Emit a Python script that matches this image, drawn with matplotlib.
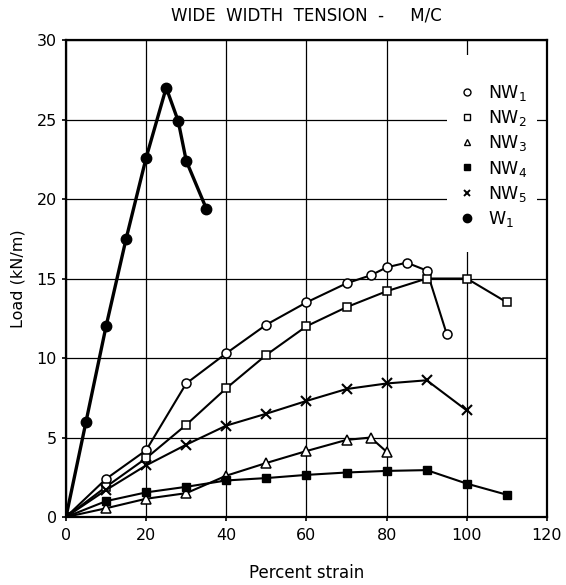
import matplotlib
matplotlib.use("Agg")
import matplotlib.pyplot as plt
from matplotlib.patches import Rectangle

plt.rcParams['font.family'] = ['DejaVu Sans']
plt.rcParams['mathtext.default'] = 'regular'

# NW1 - open circles
nw1_x = [0, 10, 20, 30, 40, 50, 60, 70, 76, 80, 85, 90, 95]
nw1_y = [0, 2.4, 4.2, 8.4, 10.3, 12.1, 13.5, 14.7, 15.2, 15.7, 16.0, 15.5, 11.5]
# NW2 - open squares
nw2_x = [0, 10, 20, 30, 40, 50, 60, 70, 80, 90, 100, 110]
nw2_y = [0, 1.9, 3.7, 5.8, 8.1, 10.2, 12.0, 13.2, 14.2, 15.0, 15.0, 13.5]
# NW3 - open triangles
nw3_x = [0, 10, 20, 30, 40, 50, 60, 70, 76, 80]
nw3_y = [0, 0.55, 1.15, 1.5, 2.6, 3.4, 4.15, 4.85, 5.0, 4.1]
# NW4 - filled squares
nw4_x = [0, 10, 20, 30, 40, 50, 60, 70, 80, 90, 100, 110]
nw4_y = [0, 1.0, 1.55, 1.9, 2.3, 2.45, 2.65, 2.8, 2.9, 2.95, 2.1, 1.4]
# NW5 - crosses
nw5_x = [0, 10, 20, 30, 40, 50, 60, 70, 80, 90, 100]
nw5_y = [0, 1.7, 3.25, 4.55, 5.75, 6.5, 7.3, 8.05, 8.4, 8.6, 6.7]
# W1 - filled circles
w1_x = [0, 5, 10, 15, 20, 25, 28, 30, 35]
w1_y = [0, 6.0, 12.0, 17.5, 22.6, 27.0, 24.9, 22.4, 19.4]

labels = ['NW$_1$', 'NW$_2$', 'NW$_3$', 'NW$_4$', 'NW$_5$', 'W$_1$']

fig = plt.figure(figsize=(5.66, 5.85), dpi=100)
ax = fig.add_axes([0.1166, 0.1162, 0.8498, 0.8154])

lw = 1.5
ax.plot(nw1_x, nw1_y, color='black', lw=lw, marker='o', ms=6.5, mfc='white', mec='black', mew=1.1, zorder=3)
ax.plot(nw2_x, nw2_y, color='black', lw=lw, marker='s', ms=6, mfc='white', mec='black', mew=1.1, zorder=3)
ax.plot(nw3_x, nw3_y, color='black', lw=lw, marker='^', ms=6.5, mfc='white', mec='black', mew=1.1, zorder=3)
ax.plot(nw4_x, nw4_y, color='black', lw=lw, marker='s', ms=6, mfc='black', mec='black', zorder=3)
ax.plot(nw5_x, nw5_y, color='black', lw=lw, marker='x', ms=7, mew=1.5, zorder=3)
ax.plot(w1_x, w1_y, color='black', lw=2.4, marker='o', ms=7.5, mfc='black', mec='black', zorder=3)

# white patch behind the legend, hides grid lines
ax.add_patch(Rectangle((0.792, 0.556), 0.187, 0.413, transform=ax.transAxes,
                       facecolor='white', edgecolor='none', zorder=1))

h = [
    plt.Line2D([], [], ls='none', marker='o', ms=5, mfc='white', mec='black'),
    plt.Line2D([], [], ls='none', marker='s', ms=4.5, mfc='white', mec='black'),
    plt.Line2D([], [], ls='none', marker='^', ms=5, mfc='white', mec='black'),
    plt.Line2D([], [], ls='none', marker='s', ms=5, mfc='black', mec='black'),
    plt.Line2D([], [], ls='none', marker='x', ms=5, mec='black', mew=1.4),
    plt.Line2D([], [], ls='none', marker='o', ms=6, mfc='black', mec='black'),
]
leg = ax.legend(h, labels, loc='upper left', bbox_to_anchor=(0.815, 0.91),
                frameon=False, fontsize=12.5, handlelength=1.0, handletextpad=0.75,
                labelspacing=0.3, borderpad=0, borderaxespad=0)
leg.set_zorder(5)

ax.set_xlim(0, 120)
ax.set_ylim(0, 30)
ax.set_xticks([0, 20, 40, 60, 80, 100, 120])
ax.set_yticks([0, 5, 10, 15, 20, 25, 30])
ax.grid(True, color='black', lw=0.9)
ax.set_axisbelow(True)
for s in ax.spines.values():
    s.set_linewidth(1.6)
ax.tick_params(labelsize=11.5, length=3, width=1.2)
ax.tick_params(axis='x', pad=5)

ax.set_xlabel('Percent strain', fontsize=12, labelpad=15)
ax.set_ylabel('Load (kN/m)', fontsize=11.5, labelpad=8)
ax.set_title('WIDE  WIDTH  TENSION  -     M/C', fontsize=12, pad=14)

fig.savefig('out.png', dpi=100)
